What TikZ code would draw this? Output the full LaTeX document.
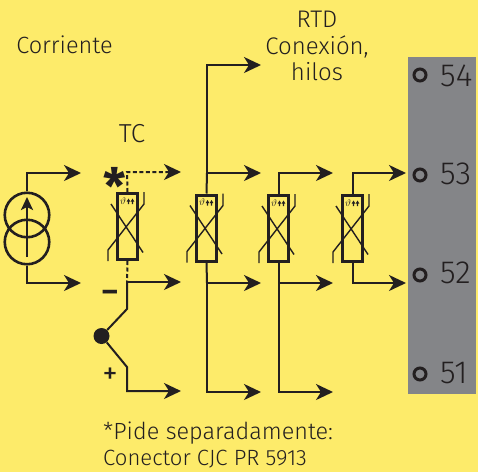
\documentclass[tikz,border=0pt]{standalone}
\usepackage{fontspec}
\setmainfont{Fira Sans Light}
\usetikzlibrary{arrows.meta}
\definecolor{bgy}{HTML}{FDEB6A}
\definecolor{gry}{HTML}{848588}
\definecolor{ink}{HTML}{231F20}
\tikzset{
  wire/.style={draw=ink,line width=2pt},
  dwire/.style={draw=ink,line width=2pt,dash pattern=on 4pt off 2.5pt},
  arr/.style={wire,-{Stealth[length=17pt,width=16pt,inset=5pt]}},
  darr/.style={dwire,-{Stealth[length=17pt,width=16pt,inset=5pt]}},
  rtdbox/.style={draw=ink,line width=3pt,minimum width=19.5pt,minimum height=66pt,inner sep=0pt},
  lab/.style={text=ink,font=\fontsize{23.5}{26.5}\selectfont,align=center,inner sep=0pt},
  term/.style={draw=ink,circle,line width=3pt,minimum size=12pt,inner sep=0pt},
  num/.style={text=ink,font=\fontsize{32}{34}\selectfont,inner sep=0pt},
  coil/.style={draw=ink,circle,line width=2.6pt,minimum size=44.5pt,inner sep=0pt},
  pics/rtd/.style={code={
    \draw[draw=ink,line width=1.4pt] (-16.5,-22.5)--(15.5,26);
    \draw[draw=ink,line width=1.4pt] (-19.5,34.5)--(-19.5,23.5)--(16.5,-22.5)--(16.5,-34.5);
    \node[text=ink,inner sep=0pt,font=\fontsize{10}{10}\selectfont] at (-4.5,-25.5) {$\vartheta$};
    \fill[ink] (0.3,-22.5)--(0.3,-25)--(-0.8,-25)--(1,-28)--(2.8,-25)--(1.7,-25)--(1.7,-22.5)--cycle;
    \fill[ink] (4.3,-22.5)--(4.3,-25)--(3.2,-25)--(5,-28)--(6.8,-25)--(5.7,-25)--(5.7,-22.5)--cycle;
  }}
}
\begin{document}
\begin{tikzpicture}[x=1pt,y=-1pt]
\useasboundingbox (0,0) rectangle (478,472);
\fill[bgy] (0,0) rectangle (478,472);
\fill[gry] (408,57) rectangle (476,394);
% coordinates
\coordinate (c1t) at (27,173); \coordinate (a1t) at (81,173);
\coordinate (c1b) at (27,283); \coordinate (a1b) at (81,283);
\coordinate (tcT) at (127,172); \coordinate (tcA) at (181,172);
\coordinate (tcJ) at (127,282); \coordinate (tcB) at (181,282);
\coordinate (tcK) at (127,309); \coordinate (tcL) at (127,367);
\coordinate (tcM) at (127,391); \coordinate (tcC) at (181,391);
\coordinate (s1U) at (207,65); \coordinate (s1A) at (261,65);
\coordinate (s1V) at (207,173); \coordinate (s1B) at (261,173);
\coordinate (s1J) at (207,283); \coordinate (s1C) at (261,283);
\coordinate (s1E) at (207,392); \coordinate (s1D) at (261,392);
\coordinate (s2U) at (278.5,173); \coordinate (s2A) at (333,173);
\coordinate (s2J) at (278.5,283); \coordinate (s2B) at (333,283);
\coordinate (s2E) at (278.5,392); \coordinate (s2C) at (333,392);
\coordinate (s3U) at (352.5,173); \coordinate (s3A) at (406,173);
\coordinate (s3J) at (352.5,283); \coordinate (s3B) at (406,283);
% source
\node[coil] (ct) at (27,215) {};
\node[coil] (cb) at (27,242) {};
\coordinate (up0) at (27,257); \coordinate (up1) at (27,197);
\draw[draw=ink,line width=2.4pt,-{Stealth[length=13pt,width=12pt,inset=3pt]}] (up0)--(up1);
\draw[arr] (ct.north) -- (c1t) -- (a1t);
\draw[arr] (cb.south) -- (c1b) -- (a1b);
% sensors
\node[rtdbox] (tc) at (127.5,226.5) {};
\node[rtdbox] (s1) at (206.5,228) {};
\node[rtdbox] (s2) at (278.5,228.5) {};
\node[rtdbox] (s3) at (352.5,228.5) {};
\path (tc.center) pic {rtd};
\path (s1.center) pic {rtd};
\path (s2.center) pic {rtd};
\path (s3.center) pic {rtd};
% TC wiring
\draw[darr] (tc.north) -- (tcT) -- (tcA);
\draw[dwire] (tc.south) -- (tcJ);
\draw[arr] (tcJ) -- (tcB);
\node[fill=ink,circle,minimum size=16pt,inner sep=0pt] (dot) at (101.5,336) {};
\draw[wire] (tcJ) -- (tcK) -- (dot);
\draw[arr] (dot) -- (tcL) -- (tcM) -- (tcC);
% sensor 1 wiring
\draw[wire] (s1.north) -- (s1V);
\draw[arr] (s1V) -- (s1U) -- (s1A);
\draw[arr] (s1V) -- (s1B);
\draw[wire] (s1.south) -- (s1J);
\draw[arr] (s1J) -- (s1C);
\draw[arr] (s1J) -- (s1E) -- (s1D);
% sensor 2 wiring
\draw[arr] (s2.north) -- (s2U) -- (s2A);
\draw[arr] (s2J) -- (s2B);
\draw[wire] (s2.south) -- (s2J);
\draw[arr] (s2J) -- (s2E) -- (s2C);
% sensor 3 wiring
\draw[arr] (s3.north) -- (s3U) -- (s3A);
\draw[arr] (s3.south) -- (s3J) -- (s3B);
% terminals
\node[term] (t54) at (420,75) {}; \node[num,anchor=west] (n54) at (440,76) {54};
\node[term] (t53) at (420,175) {}; \node[num,anchor=west] (n53) at (440,174) {53};
\node[term] (t52) at (420,275) {}; \node[num,anchor=west] (n52) at (440,273) {52};
\node[term] (t51) at (420,374) {}; \node[num,anchor=west] (n51) at (440,373) {51};
% labels
\node[lab] (corr) at (64.5,45) {Corriente};
\node[lab,font=\fontsize{26}{30}\selectfont] (tclab) at (132,134) {TC};
\node[lab,font=\fontsize{24}{26.5}\selectfont] (rtd) at (317,46) {RTD\\Conexión,\\hilos};
\node[text=ink,inner sep=0pt,font=\fontspec{Fira Sans Bold}\fontsize{50}{50}\selectfont] (star) at (115,186) {*};
\node[text=ink,inner sep=0pt,font=\fontspec{Fira Sans Bold}\fontsize{30}{30}\selectfont] (minus) at (110,296) {–};
\node[text=ink,inner sep=0pt,font=\fontspec{Fira Sans}\fontsize{30}{30}\selectfont] (plus) at (110,375.5) {+};
\node[lab,align=left,anchor=west,font=\fontsize{23.4}{26}\selectfont] (note) at (103,445) {*Pide separadamente:\\{\fontsize{22.1}{26}\selectfont Conector CJC PR 5913}};
\end{tikzpicture}
\end{document}
